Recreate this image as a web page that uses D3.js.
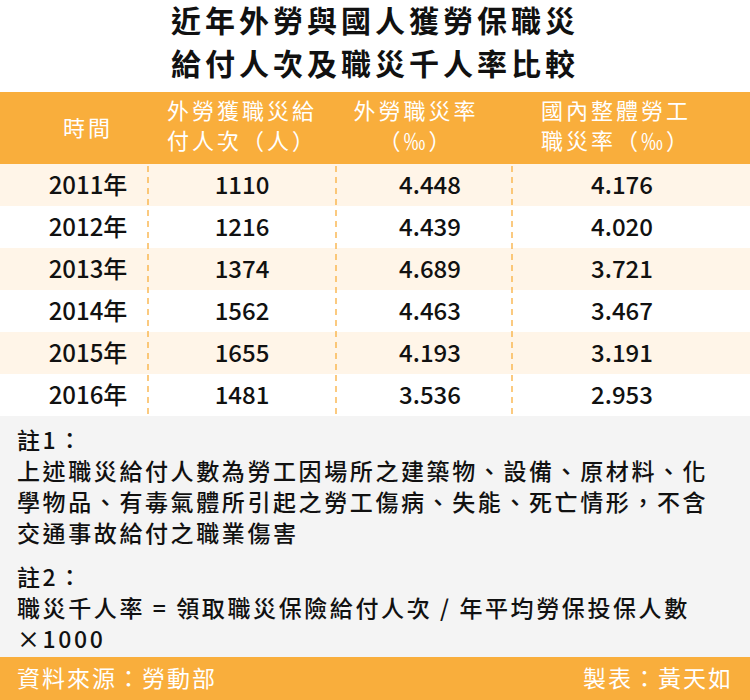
<!DOCTYPE html>
<html><head><meta charset="utf-8">
<script src="https://cdn.jsdelivr.net/npm/d3@7"></script>
<style>body{margin:0;background:#fff}svg{display:block}text{font-family:"Noto Sans CJK TC","Noto Sans",sans-serif}</style>
</head><body><svg id="c" width="750" height="700"></svg>
<script>
const titleLines = ["近年外勞與國人獲勞保職災", "給付人次及職災千人率比較"];
const headers = [["時間"], ["外勞獲職災給", "付人次（人）"], ["外勞職災率", "（‰）"], ["國內整體勞工", "職災率（‰）"]];
const years = ["2011年","2012年","2013年","2014年","2015年","2016年"];
const workers = ["1110","1216","1374","1562","1655","1481"];
const foreignRate = ["4.448","4.439","4.689","4.463","4.193","3.536"];
const domesticRate = ["4.176","4.020","3.721","3.467","3.191","2.953"];
const notes = ["註1：","上述職災給付人數為勞工因場所之建築物、設備、原材料、化","學物品、有毒氣體所引起之勞工傷病、失能、死亡情形，不含","交通事故給付之職業傷害","註2：","職災千人率 = 領取職災保險給付人次 / 年平均勞保投保人數","×1000"];
const source = "資料來源：勞動部", author = "製表：黃天如";

const svg = d3.select("#c");
const orange = "#F9AE3C";
svg.selectAll(".t").data(titleLines).join("text").attr("x",375).attr("y",(d,i)=>32+i*43)
  .attr("text-anchor","middle").attr("font-size",30).attr("letter-spacing",4).attr("font-weight","bold").attr("fill","#111").text(d=>d);
svg.append("rect").attr("x",0).attr("y",92).attr("width",750).attr("height",72).attr("fill",orange);
const colX = [88, 242, 416, 616];
headers.forEach((h,ci)=>{
  svg.append("g").selectAll("text").data(h).join("text").attr("x",colX[ci]).attr("y",(d,i)=> h.length==1?136:119+i*30)
    .attr("text-anchor","middle").attr("font-size",22).attr("letter-spacing",3).attr("fill","#fff").text(d=>d);
});
const rows = years.map((y,i)=>[y,workers[i],foreignRate[i],domesticRate[i]]);
const y = d3.scaleBand().domain(d3.range(rows.length)).range([164,416]);
svg.selectAll(".rb").data(rows).join("rect").attr("x",0).attr("y",(d,i)=>y(i)).attr("width",750)
  .attr("height",y.bandwidth()).attr("fill",(d,i)=>i%2==0?"#FFF5E8":"#fff");
const dataX = [88, 242, 430, 622];
rows.forEach((r,i)=>{
  svg.selectAll(".r"+i).data(r).join("text").attr("x",(d,j)=>dataX[j]).attr("y",y(i)+y.bandwidth()/2+9)
    .attr("text-anchor","middle").attr("font-size",24).attr("font-weight",500).attr("fill","#111").text(d=>d);
});
[148,336,512].forEach(x=>svg.append("line").attr("x1",x).attr("x2",x).attr("y1",166).attr("y2",416)
  .attr("stroke",orange).attr("stroke-width",1.3).attr("stroke-dasharray","6,5"));
svg.append("rect").attr("x",0).attr("y",416).attr("width",750).attr("height",241).attr("fill","#F4F4F4");
const noteY = [449,480,511,542,586,617,648];
svg.selectAll(".n").data(notes).join("text").attr("x",17).attr("y",(d,i)=>noteY[i])
  .attr("font-size",23).attr("letter-spacing",2.6).attr("font-weight",500).attr("fill","#111").text(d=>d);
svg.append("rect").attr("x",0).attr("y",657).attr("width",750).attr("height",43).attr("fill",orange);
svg.append("text").attr("x",17).attr("y",687).attr("font-size",23).attr("letter-spacing",2).attr("fill","#fff").text(source);
svg.append("text").attr("x",733).attr("y",687).attr("text-anchor","end").attr("font-size",23).attr("letter-spacing",2).attr("fill","#fff").text(author);
</script></body></html>
